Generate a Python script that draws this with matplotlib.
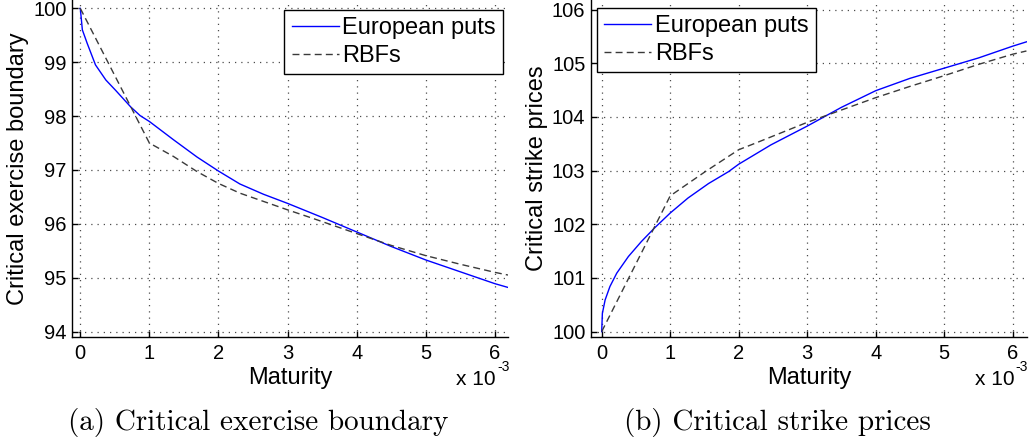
import numpy as np
import matplotlib
matplotlib.use("Agg")
import matplotlib.pyplot as plt

# maturity in units of 1e-3
mat_eu_a = [0, 0.03, 0.1, 0.22, 0.37, 0.51, 0.73, 0.865, 1.0, 1.35, 1.69,
            2.0, 2.31, 2.65, 3.0, 3.5, 4.0, 4.5, 5.0, 5.5, 6.0, 6.19]
bound_eu = [100, 99.6, 99.35, 98.95, 98.67, 98.48, 98.17, 98.01, 97.9, 97.56,
            97.24, 96.98, 96.74, 96.55, 96.38, 96.12, 95.85, 95.58, 95.33,
            95.11, 94.89, 94.82]
mat_rbf_a = [0, 1.0, 1.35, 1.69, 2.0, 2.31, 3.0, 3.37, 4.0, 4.5, 5.0, 5.5,
             6.0, 6.19]
bound_rbf = [100, 97.5, 97.25, 96.97, 96.75, 96.57, 96.26, 96.1, 95.82, 95.6,
             95.41, 95.25, 95.1, 95.05]

mat_eu_b = [0, 0.01, 0.05, 0.12, 0.22, 0.39, 0.58, 0.77, 1.0, 1.26, 1.56,
            1.85, 2.0, 2.47, 3.0, 3.5, 4.0, 4.5, 5.0, 5.5, 6.0, 6.2]
strike_eu = [100, 100.34, 100.59, 100.84, 101.09, 101.4, 101.68, 101.93,
             102.21, 102.49, 102.76, 102.98, 103.12, 103.48, 103.83, 104.18,
             104.49, 104.72, 104.91, 105.1, 105.32, 105.4]
mat_rbf_b = [0, 1.0, 1.51, 2.0, 2.24, 3.0, 3.5, 4.0, 4.5, 5.0, 5.5, 6.0, 6.2]
strike_rbf = [100.0, 102.53, 102.98, 103.39, 103.51, 103.9, 104.13, 104.36,
              104.57, 104.77, 104.98, 105.17, 105.23]

xticks = [0, 1, 2, 3, 4, 5, 6]
yticks_a = [94, 95, 96, 97, 98, 99, 100]
yticks_b = [100, 101, 102, 103, 104, 105, 106]

plt.rcParams['font.family'] = ['Liberation Sans', 'DejaVu Sans']

fig = plt.figure(figsize=(10.29, 4.44), dpi=100)
W, H = 1029, 444
ax1 = fig.add_axes([72 / W, 1 - 337 / H, 436 / W, 337 / H])
ax2 = fig.add_axes([591 / W, 1 - 337 / H, 435.7 / W, 337 / H])


def style(ax, yticks, ylim, xlim, ylabel):
    ax.set_xlim(*xlim)
    ax.set_ylim(*ylim)
    ax.set_xticks(xticks)
    ax.set_yticks(yticks)
    ax.spines['top'].set_visible(False)
    ax.spines['right'].set_visible(False)
    ax.spines['left'].set_linewidth(1.0)
    ax.spines['bottom'].set_linewidth(1.0)
    ax.tick_params(direction='in', length=4, width=1, labelsize=14.5, pad=5)
    ax.tick_params(axis='y', pad=4)
    ax.grid(True, color='k', linestyle=(0, (1, 4)), linewidth=0.9, alpha=0.7)
    ax.set_xlabel('Maturity', fontsize=17, labelpad=3)
    ax.set_ylabel(ylabel, fontsize=17, labelpad=3)
    # exponent for the maturity axis
    ax.text(0.9725, -0.125, 'x 10', transform=ax.transAxes, ha='right',
            va='center', fontsize=15)
    ax.text(0.975, -0.089, '-3', transform=ax.transAxes, ha='left',
            va='center', fontsize=10)


ax1.plot(mat_eu_a, bound_eu, color='#0000ff', lw=1.0, label='European puts')
ax1.plot(mat_rbf_a, bound_rbf, color='#3a3a3a', lw=1.0, dashes=(5, 3),
         label='RBFs')
style(ax1, yticks_a, (93.9, 100.155), (-0.12, 6.19),
      'Critical exercise boundary')

ax2.plot(mat_eu_b, strike_eu, color='#0000ff', lw=1.0, label='European puts')
ax2.plot(mat_rbf_b, strike_rbf, color='#3a3a3a', lw=1.0, dashes=(5, 3),
         label='RBFs')
style(ax2, yticks_b, (99.9, 106.18), (-0.156, 6.204), 'Critical strike prices')

leg_kw = dict(fontsize=17, frameon=True, fancybox=False, shadow=False,
              edgecolor='k', borderaxespad=0, handlelength=2.0,
              handletextpad=0.15, labelspacing=0.25, borderpad=0.3)
l1 = ax1.legend(loc='upper right', bbox_to_anchor=(0.9885, 0.970), **leg_kw)
l2 = ax2.legend(loc='upper left', bbox_to_anchor=(0.0138, 0.976), **leg_kw)
for l in (l1, l2):
    l.get_frame().set_linewidth(1.0)
    l.get_frame().set_alpha(1)

fig.text(258 / W, 1 - 422 / H, '(a) Critical exercise boundary',
         family='cmr10', fontsize=21, ha='center', va='center')
fig.text(777 / W, 1 - 422 / H, '(b) Critical strike prices',
         family='cmr10', fontsize=21, ha='center', va='center')

fig.savefig('out.png', dpi=100)
